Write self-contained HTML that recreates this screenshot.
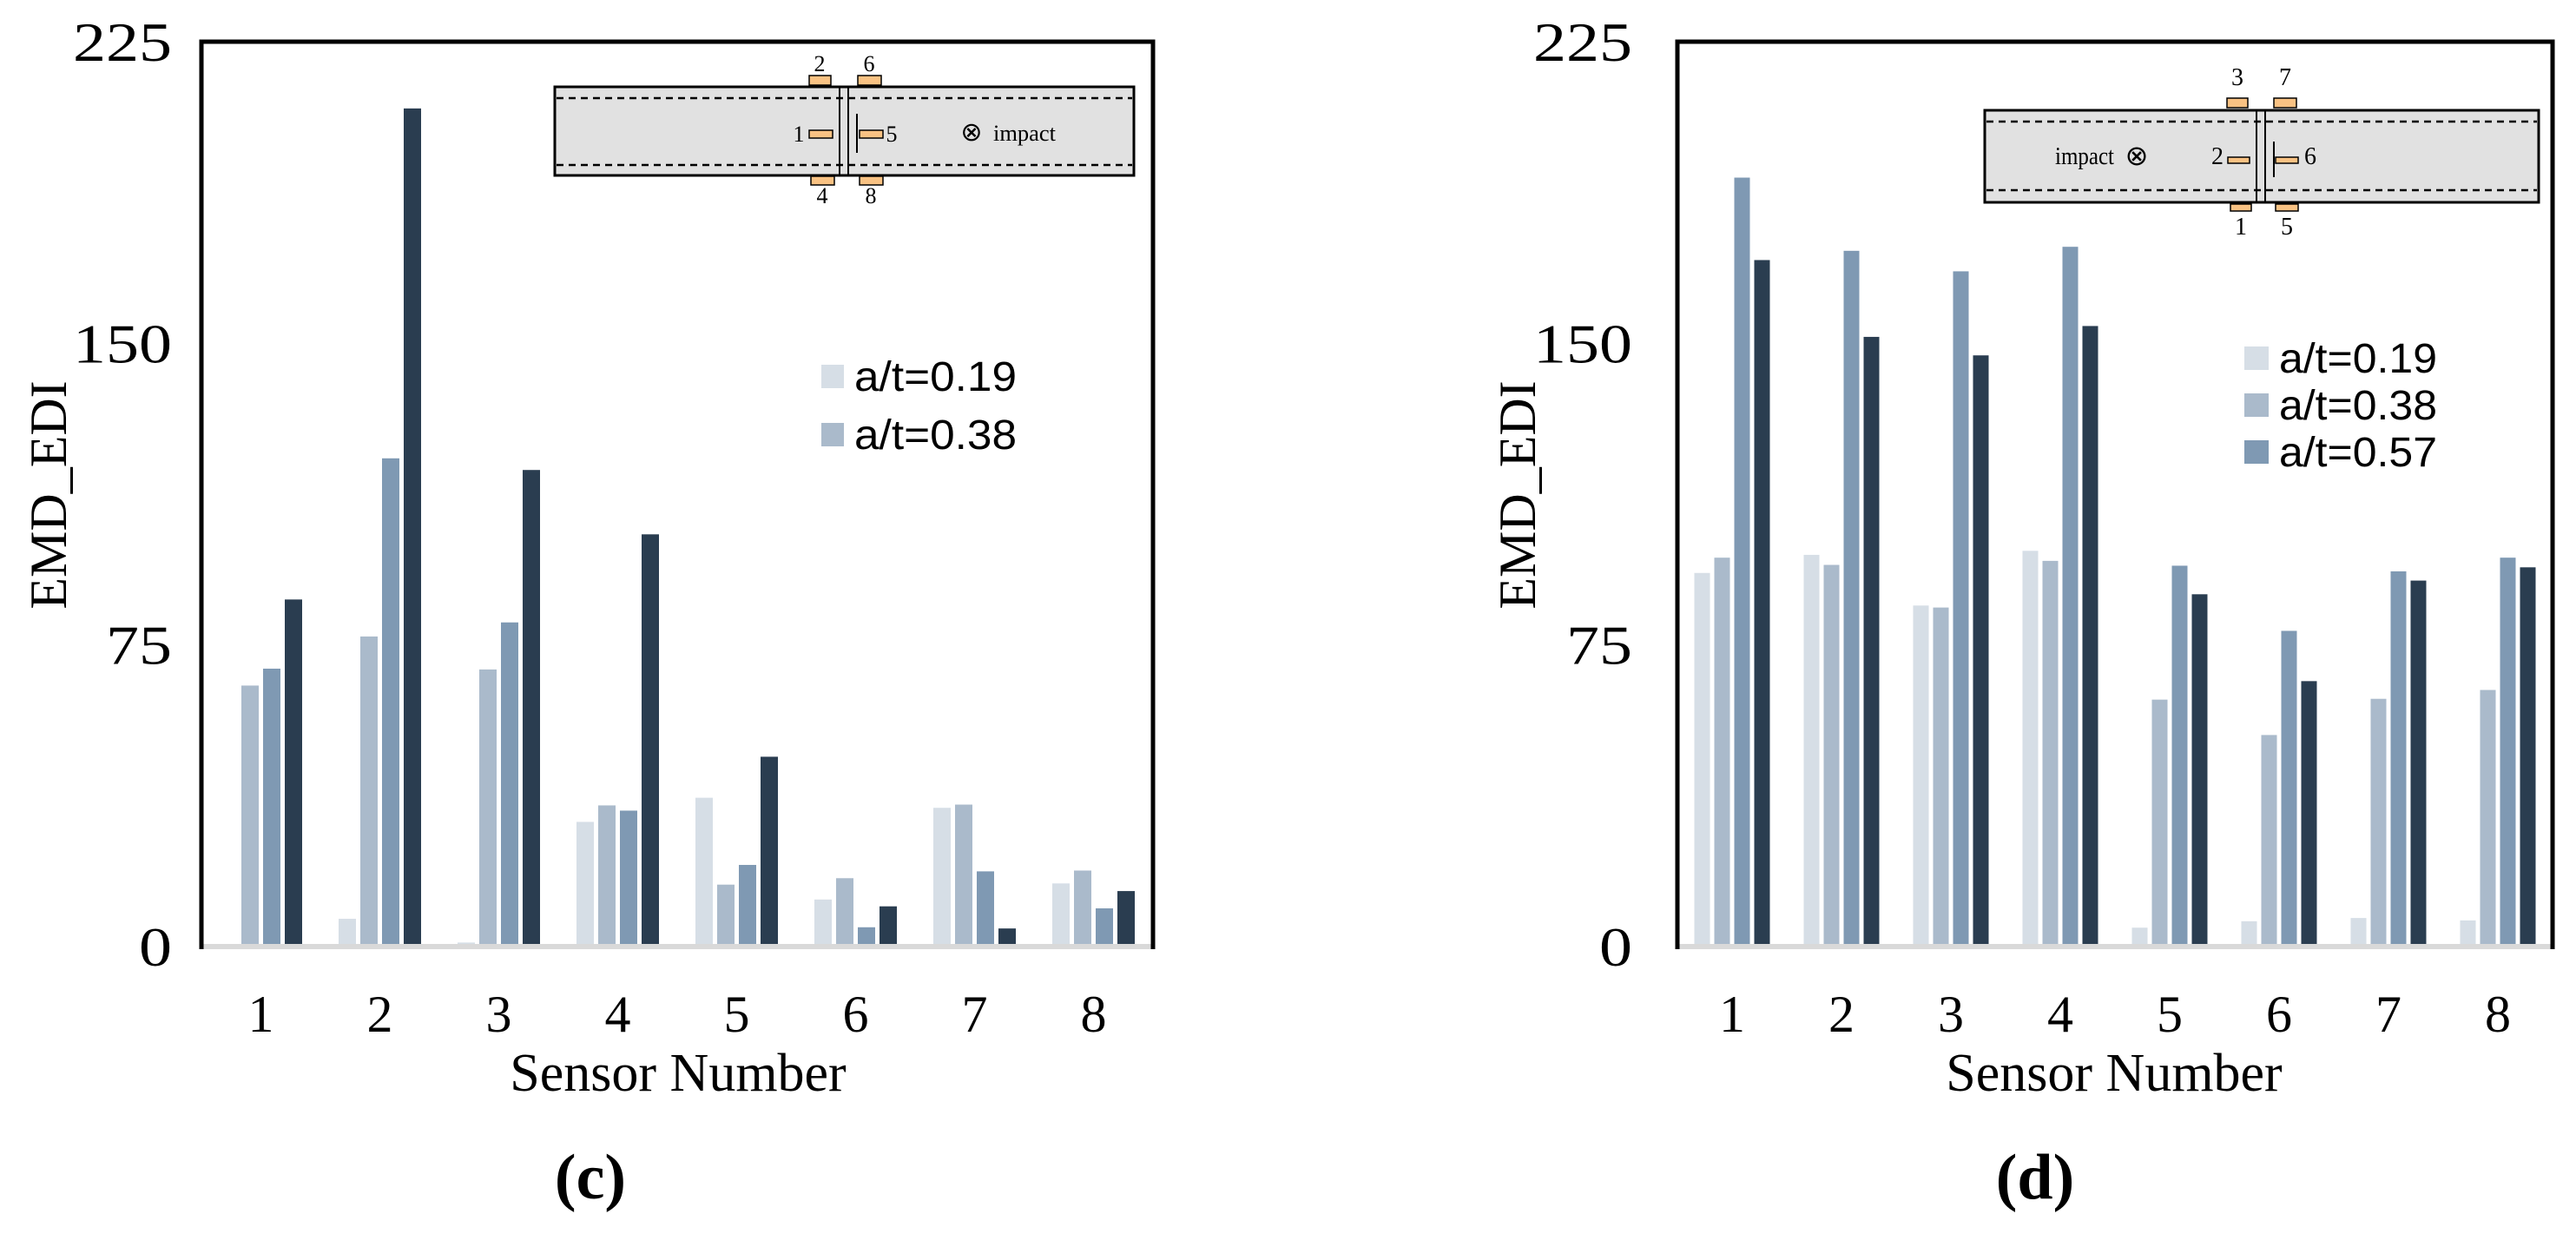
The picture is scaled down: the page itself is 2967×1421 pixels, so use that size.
<!DOCTYPE html>
<html><head><meta charset="utf-8"><style>
html,body{margin:0;padding:0;background:#fff}
svg{display:block}
text{font-family:"Liberation Serif",serif;fill:#000}
.sans{font-family:"Liberation Sans",sans-serif}
</style></head><body>
<svg id="fig" width="2967" height="1421" viewBox="0 0 2967 1421" xmlns="http://www.w3.org/2000/svg">
<g id="chartC"></g>
<g id="chartD"></g>

<!-- inset c -->
<g font-size="26">
<rect x="639" y="100" width="667" height="102" fill="#e1e1e1" stroke="#000" stroke-width="3"/>
<line x1="641" y1="113" x2="1304" y2="113" stroke="#000" stroke-width="2.5" stroke-dasharray="8,6"/>
<line x1="641" y1="190" x2="1304" y2="190" stroke="#000" stroke-width="2.5" stroke-dasharray="8,6"/>
<line x1="967" y1="100" x2="967" y2="202" stroke="#000" stroke-width="2"/>
<line x1="977" y1="100" x2="977" y2="202" stroke="#000" stroke-width="2"/>
<rect x="932" y="87" width="25" height="11" fill="#f9c283" stroke="#000" stroke-width="1.5"/>
<rect x="988" y="87" width="27" height="11" fill="#f9c283" stroke="#000" stroke-width="1.5"/>
<rect x="934" y="203" width="27" height="10" fill="#f9c283" stroke="#000" stroke-width="1.5"/>
<rect x="990" y="203" width="27" height="10" fill="#f9c283" stroke="#000" stroke-width="1.5"/>
<rect x="932" y="150" width="27" height="9" fill="#f9c283" stroke="#000" stroke-width="1.5"/>
<rect x="990" y="150" width="27" height="9" fill="#f9c283" stroke="#000" stroke-width="1.5"/>
<line x1="987" y1="131" x2="987" y2="176" stroke="#000" stroke-width="2"/>
<text x="944" y="82" text-anchor="middle">2</text>
<text x="1001" y="82" text-anchor="middle">6</text>
<text x="947" y="234" text-anchor="middle">4</text>
<text x="1003" y="234" text-anchor="middle">8</text>
<text x="920" y="163" text-anchor="middle">1</text>
<text x="1027" y="163" text-anchor="middle">5</text>
<text x="1119" y="162" text-anchor="middle" font-size="30">⊗</text>
<text x="1144" y="162" textLength="72" lengthAdjust="spacingAndGlyphs">impact</text>
</g>

<!-- inset d -->
<g font-size="28">
<rect x="2286" y="127" width="638" height="106" fill="#e1e1e1" stroke="#000" stroke-width="3"/>
<line x1="2288" y1="140" x2="2922" y2="140" stroke="#000" stroke-width="2.5" stroke-dasharray="8,6"/>
<line x1="2288" y1="219" x2="2922" y2="219" stroke="#000" stroke-width="2.5" stroke-dasharray="8,6"/>
<line x1="2599" y1="127" x2="2599" y2="233" stroke="#000" stroke-width="2"/>
<line x1="2609" y1="127" x2="2609" y2="233" stroke="#000" stroke-width="2"/>
<rect x="2565" y="113" width="24" height="11" fill="#f9c283" stroke="#000" stroke-width="1.5"/>
<rect x="2619" y="113" width="26" height="11" fill="#f9c283" stroke="#000" stroke-width="1.5"/>
<rect x="2569" y="235" width="24" height="8" fill="#f9c283" stroke="#000" stroke-width="1.5"/>
<rect x="2621" y="235" width="26" height="8" fill="#f9c283" stroke="#000" stroke-width="1.5"/>
<rect x="2566" y="181" width="25" height="7" fill="#f9c283" stroke="#000" stroke-width="1.5"/>
<rect x="2621" y="181" width="26" height="7" fill="#f9c283" stroke="#000" stroke-width="1.5"/>
<line x1="2619" y1="163" x2="2619" y2="204" stroke="#000" stroke-width="2"/>
<text x="2577" y="98" text-anchor="middle">3</text>
<text x="2632" y="98" text-anchor="middle">7</text>
<text x="2581" y="270" text-anchor="middle">1</text>
<text x="2634" y="270" text-anchor="middle">5</text>
<text x="2554" y="189" text-anchor="middle">2</text>
<text x="2661" y="189" text-anchor="middle">6</text>
<text x="2367" y="189" textLength="68" lengthAdjust="spacingAndGlyphs">impact</text>
<text x="2461" y="190" text-anchor="middle" font-size="32">⊗</text>
</g>

<text x="680" y="1380" text-anchor="middle" font-size="74" font-weight="bold">(c)</text>
<text x="2344" y="1380" text-anchor="middle" font-size="74" font-weight="bold">(d)</text>
</svg>
<script>
const categories = ["1","2","3","4","5","6","7","8"];
const yTicks = [0, 75, 150, 225];
const seriesNames = ["a/t=0.19","a/t=0.38","a/t=0.57","a/t=0.76"];
const seriesColors = ["#d6dee6","#aabacb","#7f99b3","#2a3d50"];
const c019 = [0, 6.9, 1, 31, 37, 11.7, 34.5, 15.7];
const c038 = [64.9, 77.1, 68.9, 35.1, 15.4, 17, 35.3, 18.9];
const c057 = [69.1, 121.4, 80.6, 33.8, 20.3, 4.8, 18.7, 9.5];
const c076 = [86.3, 208.4, 118.5, 102.5, 47.2, 10, 4.5, 13.8];
const d019 = [92.9, 97.4, 84.8, 98.4, 4.7, 6.3, 7.1, 6.5];
const d038 = [96.7, 94.9, 84.3, 95.9, 61.4, 52.6, 61.6, 63.8];
const d057 = [191.2, 173, 167.9, 174, 94.7, 78.5, 93.3, 96.7];
const d076 = [170.7, 151.6, 147, 154.3, 87.6, 66, 91, 94.3];
const legendC = ["a/t=0.19","a/t=0.38"];
const legendD = ["a/t=0.19","a/t=0.38","a/t=0.57"];

const NS = "http://www.w3.org/2000/svg";
function mk(tag, attrs, parent){
  const e = document.createElementNS(NS, tag);
  for (const k in attrs) e.setAttribute(k, attrs[k]);
  parent.appendChild(e);
  return e;
}
function drawChart(g, cfg){
  const top = 48, zero = 1090, yMax = 225;
  const yS = v => zero - v / yMax * (zero - top);
  const band = (cfg.right - cfg.left) / categories.length;
  const xC = i => cfg.left + band * (i + 0.5);
  cfg.series.forEach((vals, s) => {
    vals.forEach((v, i) => {
      const x = xC(i) + (s - 1.5) * cfg.pitch - cfg.bw / 2;
      const r = mk('rect', {x: x, y: yS(v), width: cfg.bw, height: zero - yS(v), fill: seriesColors[s]}, g);
      
      
    });
  });
  const ax = mk('line', {x1: cfg.left, y1: zero, x2: cfg.right, y2: zero, stroke: '#d9d9d9', 'stroke-width': 6}, g);
  
  
  const fr = mk('path', {d: `M${cfg.left},${zero+3} L${cfg.left},${top} L${cfg.right},${top} L${cfg.right},${zero+3}`, fill: 'none', stroke: '#000', 'stroke-width': 5}, g);
  
  
  yTicks.forEach(t => {
    const s = String(t);
    const tx = mk('text', {x: cfg.tickRight, y: yS(t) + 22, 'text-anchor': 'end', 'font-size': 64, textLength: s.length * 38, lengthAdjust: 'spacingAndGlyphs'}, g);
    tx.textContent = s;
    
    
  });
  categories.forEach((c, i) => {
    const tx = mk('text', {x: xC(i), y: 1188, 'text-anchor': 'middle', 'font-size': 60}, g);
    tx.textContent = c;
    
    
  });
  const xt = mk('text', {x: cfg.xTitleX, y: 1256, 'text-anchor': 'middle', 'font-size': 62}, g);
  xt.textContent = 'Sensor Number';
  
  
  const yt = mk('text', {x: 0, y: 0, 'text-anchor': 'middle', 'font-size': 60, transform: `translate(${cfg.yTitleX},570) rotate(-90)`}, g);
  yt.textContent = 'EMD_EDI';
  
  
  cfg.legend.forEach((n, k) => {
    const y = cfg.legY + k * cfg.legStep;
    const sw = mk('rect', {x: cfg.legX, y: y - 13, width: cfg.legSw, height: 27, fill: seriesColors[k]}, g);
    
    
    const lt = mk('text', {x: cfg.legX + cfg.legSw + 12, y: y + 17, 'font-size': 48, class: 'sans', textLength: cfg.legTL, lengthAdjust: 'spacingAndGlyphs'}, g);
    lt.textContent = n;
    
    
  });
}
drawChart(document.getElementById('chartC'), {left: 232, right: 1328, pitch: 25, bw: 20, series: [c019, c038, c057, c076], tickRight: 198, xTitleX: 781, yTitleX: 76, legend: legendC, legX: 946, legY: 433, legStep: 67, legSw: 26, legTL: 187});
drawChart(document.getElementById('chartD'), {left: 1932, right: 2940, pitch: 23, bw: 18, series: [d019, d038, d057, d076], tickRight: 1880, xTitleX: 2435, yTitleX: 1768, legend: legendD, legX: 2585, legY: 412, legStep: 54, legSw: 28, legTL: 182});
</script>
</body></html>
